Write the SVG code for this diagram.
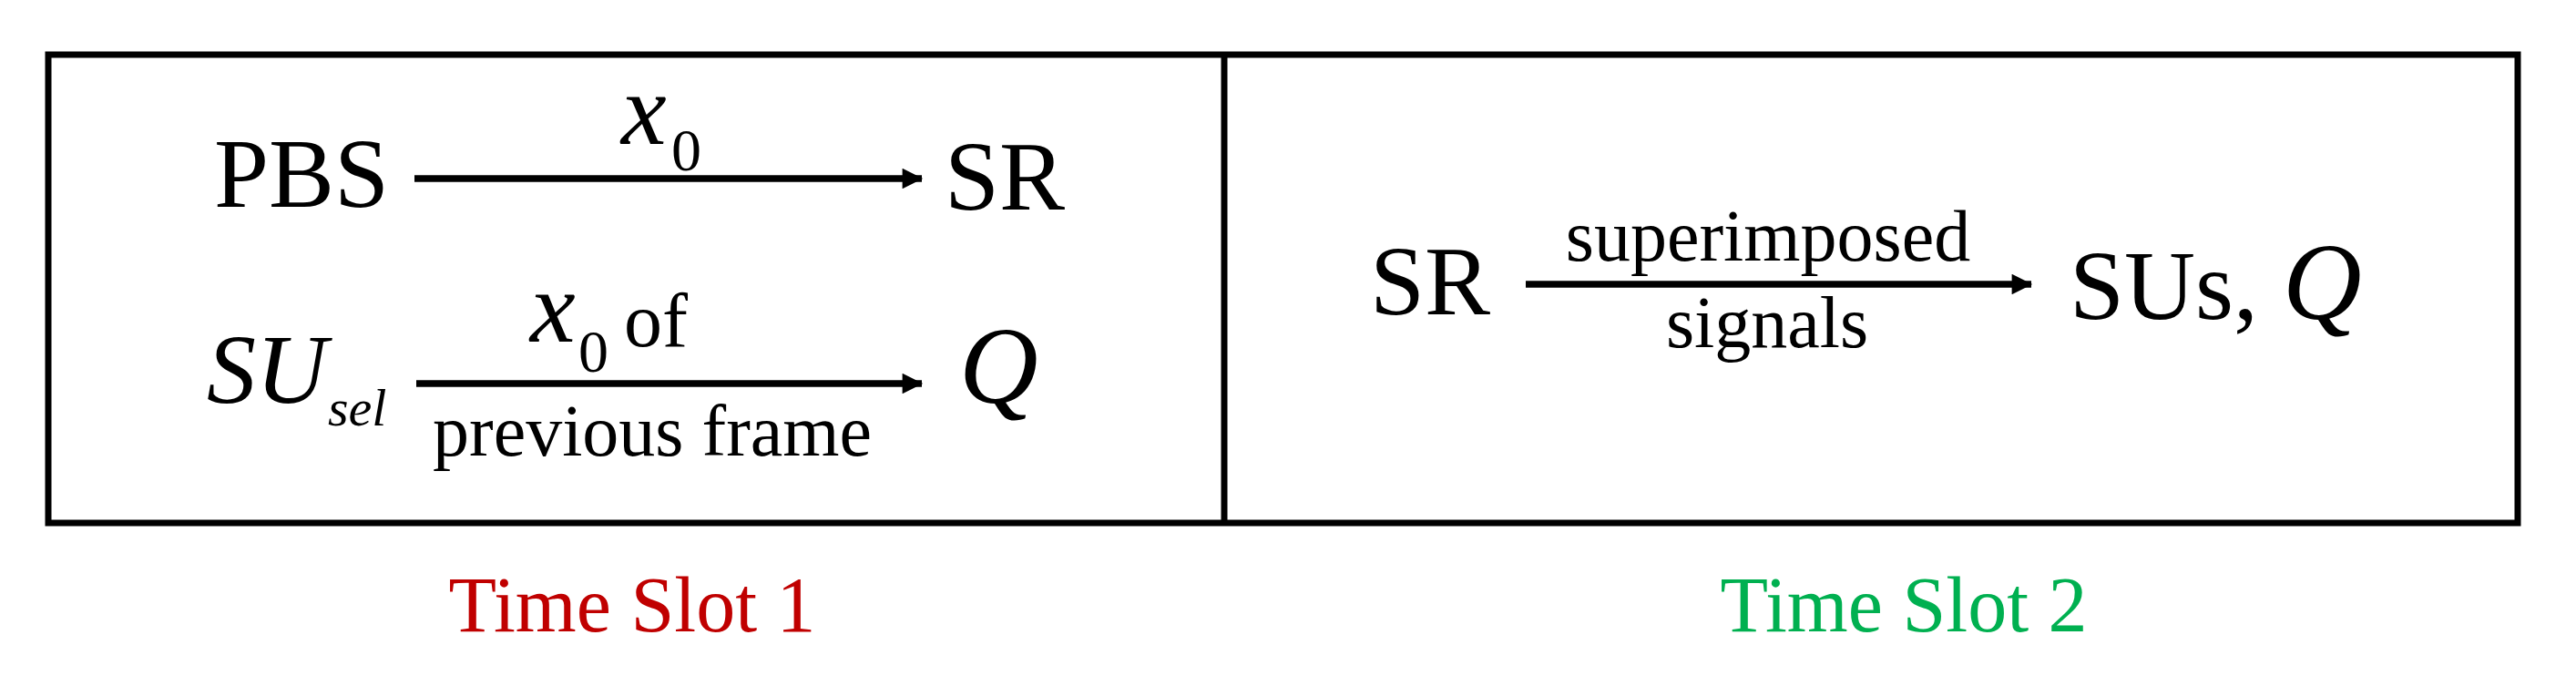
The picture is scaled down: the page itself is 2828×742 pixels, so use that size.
<svg xmlns="http://www.w3.org/2000/svg" width="2828" height="742" viewBox="0 0 2828 742">
<style>
text{font-family:"Liberation Serif","Times New Roman",serif;fill:#000}
.big{font-size:108px}
.it{font-style:italic}
.lbl{font-size:80px}
.frame{fill:none;stroke:#000;stroke-width:7}
.conn{stroke:#000;stroke-width:7.5;fill:none}
.cap{font-size:86px;text-anchor:middle}
</style>
<defs>
<marker id="ah" viewBox="0 0 10 10" refX="9.5" refY="5" markerWidth="3.4" markerHeight="3" markerUnits="strokeWidth" orient="auto">
<path d="M0,0 L10,5 L0,10 z" fill="#000"/>
</marker>
</defs>
<rect x="0" y="0" width="2828" height="742" fill="#fff"/>
<g id="frames">
<rect class="frame" x="53" y="60" width="2711" height="514"/>
<line class="frame" x1="1344" y1="60" x2="1344" y2="574"/>
</g>
<g id="connectors">
<line class="conn" x1="455" y1="196" x2="1012" y2="196" marker-end="url(#ah)"/>
<line class="conn" x1="457" y1="421" x2="1012" y2="421" marker-end="url(#ah)"/>
<line class="conn" x1="1675" y1="312" x2="2230" y2="312" marker-end="url(#ah)"/>
</g>
<g id="node-pbs"><text class="big" x="235" y="227">PBS</text></g>
<g id="node-sr1"><text class="big" x="1037" y="230">SR</text></g>
<g id="label-x0"><text class="it" x="682" y="158" font-size="112">x</text><text x="737" y="187" font-size="66">0</text></g>
<g id="node-susel"><text class="big it" x="227" y="442">SU</text><text class="it" x="360" y="467" font-size="58">sel</text></g>
<g id="label-x0of"><text class="it" x="582" y="375" font-size="112">x</text><text x="635" y="408" font-size="66">0</text><text x="685" y="380" font-size="84">of</text></g>
<g id="label-prev"><text class="lbl" x="716" y="500" text-anchor="middle">previous frame</text></g>
<g id="node-q1"><text class="it" x="1053" y="442" font-size="120">Q</text></g>
<g id="node-sr2"><text class="big" x="1504" y="345">SR</text></g>
<g id="label-super"><text class="lbl" x="1941" y="286" text-anchor="middle">superimposed</text><text class="lbl" x="1940" y="381" text-anchor="middle">signals</text></g>
<g id="node-sus"><text class="big" x="2272" y="350">SUs, <tspan class="it" font-size="120">Q</tspan></text></g>
<g id="caption1"><text class="cap" x="694" y="693" fill="#C00000" style="fill:#C00000">Time Slot 1</text></g>
<g id="caption2"><text class="cap" x="2090" y="693" fill="#00B050" style="fill:#00B050">Time Slot 2</text></g>
</svg>
